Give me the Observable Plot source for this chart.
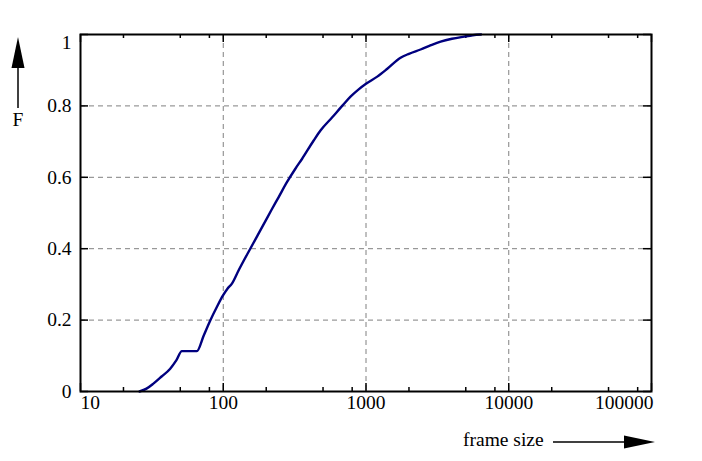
<!DOCTYPE html>
<html>
<head>
<meta charset="utf-8">
<script src="https://cdn.jsdelivr.net/npm/d3@7"></script>
<script src="https://cdn.jsdelivr.net/npm/@observablehq/plot@0.6"></script>
<style>
  html, body { margin: 0; padding: 0; background: #fff; }
  #wrap { position: relative; width: 702px; height: 461px; }
  #wrap svg { position: absolute; left: 0; top: 0; }
  #wrap text { font-family: 'Liberation Serif', 'DejaVu Serif', serif !important; font-size: 19.5px !important; }
</style>
</head>
<body>
<div id="wrap"></div>
<script>
const frameSize = [25.9, 29, 32.4, 37, 42.5, 47, 51.3, 65.3, 73, 81.1, 90, 99.6, 107, 115, 128, 154.6, 191.7, 218, 244, 280, 320, 357, 430, 480, 580, 681, 779, 880, 1000, 1199, 1410, 1746, 2000, 2411, 2850, 3333, 4000, 4858, 5600, 6400];
const cdf       = [0,    0.008, 0.022, 0.042, 0.064, 0.088, 0.113, 0.113, 0.157, 0.199, 0.236, 0.269, 0.288, 0.302, 0.339, 0.40, 0.468, 0.509, 0.544, 0.587, 0.624, 0.652, 0.703, 0.731, 0.768, 0.80, 0.826, 0.845, 0.862, 0.882, 0.904, 0.935, 0.946, 0.958, 0.970, 0.980, 0.988, 0.994, 0.998, 1.0];

const xMajor = [10, 100, 1000, 10000, 100000];
const xMajorLabels = ["10", "100", "1000", "10000", "100000"];
const xMinor = [20, 50, 80, 200, 500, 800, 2000, 5000, 8000, 20000, 50000, 80000];
const yTicks = [0, 0.2, 0.4, 0.6, 0.8, 1];
const yTickLabels = ["0", "0.2", "0.4", "0.6", "0.8", "1"];
const xGrid = [100, 1000, 10000];
const yGrid = [0.2, 0.4, 0.6, 0.8];

const data = frameSize.map((x, i) => ({x, F: cdf[i]}));

const W = 702, H = 461;
const mL = 80, mR = 51, mT = 34, mB = 70;
const fw = W - mL - mR, fh = H - mT - mB;
const font = "'Liberation Serif', 'DejaVu Serif', serif";
const fs = 19.5;

const xl = xMajor.map((v, i) => ({v, t: xMajorLabels[i]}));
const yl = yTicks.map((v, i) => ({v, t: yTickLabels[i]}));
const txt = {fill: "black", fontSize: fs, fontFamily: font};

const chart = Plot.plot({
  width: W, height: H,
  marginLeft: mL, marginRight: mR, marginTop: mT, marginBottom: mB,
  style: {fontFamily: font, fontSize: fs + "px", background: "white", color: "black"},
  x: {type: "log", domain: [10, 100000], axis: null},
  y: {domain: [0, 1], axis: null},
  marks: [
    Plot.ruleX(xGrid, {x: d => d, stroke: "#808080", strokeWidth: 1, strokeDasharray: "5,4"}),
    Plot.ruleY(yGrid, {y: d => d, stroke: "#808080", strokeWidth: 1, strokeDasharray: "5,4"}),
    // inward ticks: bottom & top
    Plot.ruleX(xMajor, {x: d => d, insetTop: fh - 8, stroke: "black", strokeWidth: 1.5}),
    Plot.ruleX(xMajor, {x: d => d, insetBottom: fh - 8, stroke: "black", strokeWidth: 1.5}),
    Plot.ruleX(xMinor, {x: d => d, insetTop: fh - 4, stroke: "black", strokeWidth: 1.5}),
    Plot.ruleX(xMinor, {x: d => d, insetBottom: fh - 4, stroke: "black", strokeWidth: 1.5}),
    // inward ticks: left & right
    Plot.ruleY(yTicks, {y: d => d, insetRight: fw - 8, stroke: "black", strokeWidth: 1.5}),
    Plot.ruleY(yTicks, {y: d => d, insetLeft: fw - 8, stroke: "black", strokeWidth: 1.5}),
    Plot.line(data, {x: "x", y: "F", stroke: "#00007f", strokeWidth: 2.4, curve: "monotone-x"}),
    Plot.frame({stroke: "black", strokeWidth: 2}),
    // x tick labels
    Plot.text(xl.slice(0, 1), {x: "v", text: "t", frameAnchor: "bottom", dy: 17, textAnchor: "start", ...txt}),
    Plot.text(xl.slice(1, 4), {x: "v", text: "t", frameAnchor: "bottom", dy: 17, textAnchor: "middle", ...txt}),
    Plot.text(xl.slice(4), {x: "v", text: "t", frameAnchor: "bottom", dy: 17, dx: 2, textAnchor: "end", ...txt}),
    // y tick labels
    Plot.text(yl.slice(0, 5), {y: "v", text: "t", frameAnchor: "left", dx: -9, textAnchor: "end", ...txt}),
    Plot.text(yl.slice(5), {y: "v", text: "t", frameAnchor: "left", dx: -9, dy: 8, textAnchor: "end", ...txt})
  ]
});

const wrap = document.getElementById("wrap");
wrap.appendChild(chart);

// axis titles with arrows
const ns = "http://www.w3.org/2000/svg";
const ov = document.createElementNS(ns, "svg");
ov.setAttribute("width", W);
ov.setAttribute("height", H);
ov.setAttribute("style", "pointer-events:none");
ov.innerHTML = `
  <line x1="18" y1="108" x2="18" y2="62" stroke="black" stroke-width="1.5"/>
  <polygon points="18,37 11.5,68 24.5,68" fill="black"/>
  <text x="18" y="122" text-anchor="middle" dominant-baseline="middle" fill="black">F</text>
  <text x="463" y="442" text-anchor="start" dominant-baseline="middle" fill="black">frame size</text>
  <line x1="553" y1="442" x2="630" y2="442" stroke="black" stroke-width="1.5"/>
  <polygon points="655,442 624,435.5 624,448.5" fill="black"/>
`;
wrap.appendChild(ov);
</script>
</body>
</html>
